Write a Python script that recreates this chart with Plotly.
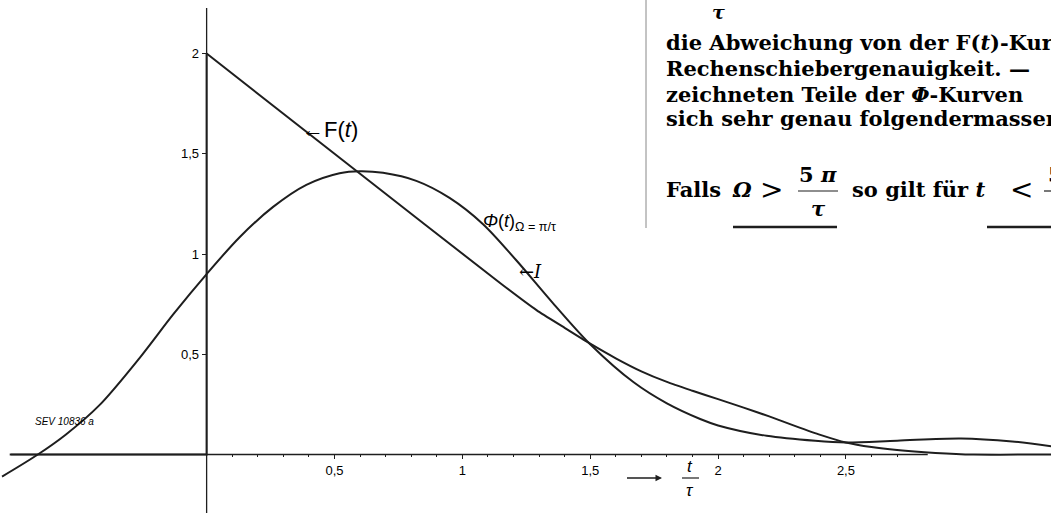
import plotly.graph_objects as go

# F(t): zero before t=0, jumps to 2, falls linearly, then a smooth tail
f_t = [-0.77, 0.0, 0.0, 0.58, 1.15, 1.29, 1.40, 1.505, 1.6, 1.7, 1.8, 1.9, 2.0,
       2.1, 2.2, 2.3, 2.4, 2.5, 2.6, 2.7, 2.85, 3.0, 3.31]
f_val = [0.0, 0.0, 2.0, 1.42, 0.853, 0.72, 0.632, 0.549, 0.48, 0.415, 0.362, 0.318, 0.276,
         0.234, 0.19, 0.143, 0.098, 0.06, 0.037, 0.022, 0.008, 0.0, 0.0]

# Phi(t) for Omega = pi/tau
phi_t = [-0.80, -0.66, -0.55, -0.42, -0.26, -0.13, 0.0, 0.13, 0.26, 0.39, 0.52, 0.6,
         0.69, 0.82, 0.95, 1.08, 1.21, 1.355, 1.5, 1.67, 1.8, 1.93, 2.0, 2.19, 2.38,
         2.5, 2.7, 2.95, 3.15, 3.31]
phi_val = [-0.11, 0.0, 0.10, 0.245, 0.485, 0.70, 0.90, 1.085, 1.235, 1.345, 1.403, 1.413,
           1.405, 1.365, 1.28, 1.15, 0.97, 0.754, 0.55, 0.36, 0.255, 0.177, 0.145, 0.093,
           0.068, 0.06, 0.069, 0.08, 0.065, 0.04]

x_ticks = [0.5, 1, 1.5, 2, 2.5]
x_ticktext = ["0,5", "1", "1,5", "2", "2,5"]
y_ticks = [0.5, 1, 1.5, 2]
y_ticktext = ["0,5", "1", "1,5", "2"]

W, H = 1051, 513
X_RANGE = [-0.808, 3.302]
Y_RANGE = [-0.2918, 2.267]
INK = "#1e1e1e"
SERIF = "DejaVu Serif"
SANS = "Liberation Sans"


def px(x, y):
    # pixel position -> paper coords (margins are zero)
    return x / W, 1 - y / H


fig = go.Figure()
# step part of F drawn straight, the rest smoothed
fig.add_trace(go.Scatter(x=f_t[:3], y=f_val[:3], mode="lines",
                         line=dict(color=INK, width=2), hoverinfo="skip"))
fig.add_trace(go.Scatter(x=f_t[2:], y=f_val[2:], mode="lines", line_shape="spline",
                         line=dict(color=INK, width=2, smoothing=0.6), hoverinfo="skip"))
fig.add_trace(go.Scatter(x=phi_t, y=phi_val, mode="lines", line_shape="spline",
                         line=dict(color=INK, width=2, smoothing=0.9), hoverinfo="skip"))

# hand drawn axes
fig.add_shape(type="line", x0=-0.765, x1=2.82, y0=0, y1=0,
              line=dict(color=INK, width=1.3))
fig.add_shape(type="line", x0=0, x1=0, y0=Y_RANGE[0], y1=2.227,
              line=dict(color=INK, width=1.3))

annotations = []


def text(x, y, s, size, family=SANS, anchor="left", color="black"):
    ax, ay = px(x, y)
    annotations.append(dict(x=ax, y=ay, xref="paper", yref="paper", text=s,
                            showarrow=False, xanchor=anchor, yanchor="middle",
                            font=dict(family=family, size=size, color=color)))


def line(x0, y0, x1, y1, width=1.0, color=INK):
    a0, b0 = px(x0, y0)
    a1, b1 = px(x1, y1)
    fig.add_shape(type="line", xref="paper", yref="paper", x0=a0, y0=b0, x1=a1, y1=b1,
                  line=dict(color=color, width=width))


# curve labels
text(300, 129, "←F(<i>t</i>)", 22)
text(481, 223, "<i>Φ</i>(<i>t</i>)<sub>Ω = π/τ</sub>", 18)
text(517, 271, "←<i>I</i>", 18, family=SERIF)

# x axis label: arrow and t over tau
a_x, a_y = px(662, 478)
annotations.append(dict(x=a_x, y=a_y, xref="paper", yref="paper", text=" ",
                        showarrow=True, ax=-38, ay=0, arrowhead=2, arrowsize=1,
                        arrowwidth=1.3, arrowcolor=INK))
text(690, 466, "<i>t</i>", 17, anchor="center")
text(690, 490, "<i>τ</i>", 17, anchor="center")
line(682, 478, 699, 478, 1.2)

text(33, 421, "<i>SEV 10836 a</i>", 10)

# text column from the page
line(646, 0, 646, 228, 1, "#888888")
text(718, 12, "<b><i>τ</i></b>", 19, family=SERIF, anchor="center")
text(664, 43, "<b>die Abweichung von der F(<i>t</i>)-Kurve</b>", 21, family=SERIF)
text(664, 68, "<b>Rechenschiebergenauigkeit. —</b>", 21, family=SERIF)
text(664, 94, "<b>zeichneten Teile der <i>Φ</i>-Kurven</b>", 21, family=SERIF)
text(664, 119, "<b>sich sehr genau folgendermassen</b>", 21, family=SERIF)
text(664, 189, "<b>Falls</b>", 21, family=SERIF)
text(730, 189, "<b><i>Ω</i></b>", 21, family=SERIF)
text(758, 189, ">", 28, family=SERIF)
text(818, 174, "<b>5 <i>π</i></b>", 21, family=SERIF, anchor="center")
line(798, 191, 838, 191, 1.2)
text(818, 208, "<b><i>τ</i></b>", 21, family=SERIF, anchor="center")
text(850, 189, "<b>so gilt für <i>t</i></b>", 21, family=SERIF)
text(1008, 189, "<", 28, family=SERIF)
text(1046, 174, "<b>5</b>", 21, family=SERIF)
line(1044, 191, 1051, 191, 1.2)
line(733, 227, 837, 227, 2.5)
line(987, 227, 1051, 227, 2.5)

fig.update_layout(
    width=W, height=H,
    margin=dict(l=0, r=0, t=0, b=0),
    plot_bgcolor="white", paper_bgcolor="white",
    showlegend=False,
    annotations=annotations,
    separators=",.",
)
fig.update_xaxes(range=X_RANGE, showgrid=False, zeroline=False, showline=False,
                 anchor="free",
                 position=(0 - Y_RANGE[0]) / (Y_RANGE[1] - Y_RANGE[0]),
                 tickvals=x_ticks, ticktext=x_ticktext, ticks="outside", ticklen=4,
                 tickwidth=1.2, tickcolor=INK,
                 minor=dict(tickvals=[i / 10 for i in range(1, 28)], ticks="outside",
                            ticklen=2, tickcolor=INK),
                 tickfont=dict(family=SANS, size=13, color="black"), automargin=False)
fig.update_yaxes(range=Y_RANGE, showgrid=False, zeroline=False, showline=False,
                 anchor="free",
                 position=(0 - X_RANGE[0]) / (X_RANGE[1] - X_RANGE[0]),
                 tickvals=y_ticks, ticktext=y_ticktext, ticks="outside", ticklen=5,
                 tickwidth=1.2, tickcolor=INK,
                 tickfont=dict(family=SANS, size=13, color="black"), automargin=False)

# drop the page margin so the figure sits at the window corner
fig.write_html("out.html", config={"displayModeBar": False},
               post_script="document.body.style.margin = '0';")
